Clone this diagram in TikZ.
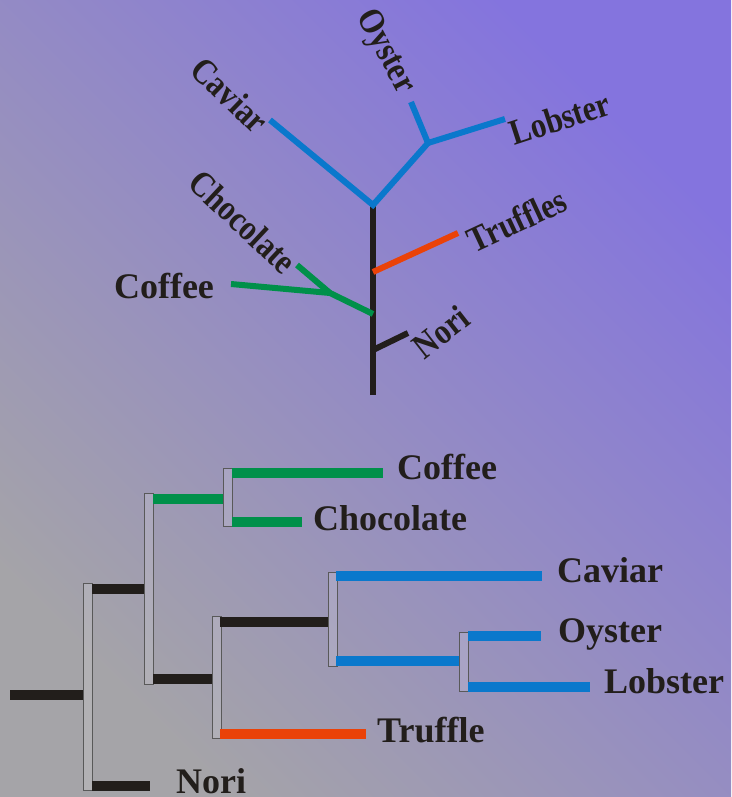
\documentclass[tikz,border=0pt]{standalone}
\usepackage{fontspec}
\setmainfont{Liberation Serif}
\usepackage{tikz}

\definecolor{bgtop}{HTML}{8474DE}
\definecolor{bgmid}{HTML}{958FC6}
\definecolor{bgbot}{HTML}{A5A4A8}
\definecolor{ink}{HTML}{221E1B}
\definecolor{seafood}{HTML}{0A78CC}
\definecolor{plant}{HTML}{00904A}
\definecolor{fungus}{HTML}{EA4208}

\begin{document}
\begin{tikzpicture}[x=1pt,y=-1pt,
  lbl/.style={font=\fontsize{36}{40}\selectfont\bfseries,text=ink,inner sep=0pt},
  tlbl/.style={lbl,anchor=center},
  twig/.style={line width=6pt,line join=miter},
  bar/.style={line width=10.5pt},
  clade/.style={draw=black!65,line width=1pt,fill=white,fill opacity=0.15}]

\shade[top color=bgtop,middle color=bgmid,bottom color=bgbot,shading angle=-45] (0,0) rectangle (731,797);
\useasboundingbox (0,0) rectangle (731,797);

% unrooted tree
\coordinate (base) at (373,395);
\coordinate (fork) at (373,205);
\coordinate (shell) at (428,143);
\coordinate (bean) at (330,293);
\coordinate (beanfoot) at (373,314);
\coordinate (trfoot) at (373,272);
\coordinate (nrfoot) at (373,350);
\coordinate (cavT) at (270,120);
\coordinate (oysT) at (411,102);
\coordinate (lobT) at (505,119);
\coordinate (trT) at (458,233);
\coordinate (cofT) at (231,284);
\coordinate (choT) at (297,265);
\coordinate (norT) at (408,333);

\draw[twig,ink] (base) -- (fork);
\draw[twig,seafood] (cavT) -- (fork) -- (shell) -- (oysT);
\draw[twig,seafood] (shell) -- (lobT);
\draw[twig,fungus] (trfoot) -- (trT);
\draw[twig,plant] (cofT) -- (bean) -- (beanfoot);
\draw[twig,plant] (choT) -- (bean);
\draw[twig,ink] (nrfoot) -- (norT);

\node[tlbl,rotate=-44,xscale=0.86] (caviar1) at (230,95) {Caviar};
\node[tlbl,rotate=-62,xscale=0.86] (oyster1) at (385,52) {Oyster};
\node[tlbl,rotate=18,xscale=0.86] (lobster1) at (560,118) {Lobster};
\node[tlbl,rotate=25,xscale=0.86] (truffle1) at (517,220) {Truffles};
\node[tlbl,rotate=-43,xscale=0.86] (choc1) at (243,222) {Chocolate};
\node[tlbl] (coffee1) at (164,286) {Coffee};
\node[tlbl,rotate=38,xscale=0.86] (nori1) at (441,332) {Nori};

% rooted tree
\foreach \x/\ya/\yb in {83/583/790, 144/493/684, 223/468/526, 212/616/738, 328/572/666, 459/632/691}{
  \draw[clade] (\x,\ya) rectangle (\x+9,\yb);
}

\coordinate (r0) at (10,695);   \coordinate (r1) at (83,695);
\coordinate (a0) at (92,589);   \coordinate (a1) at (144,589);
\coordinate (n0) at (92,786);   \coordinate (n1) at (150,786);
\coordinate (g0) at (153,499);  \coordinate (g1) at (223,499);
\coordinate (cf0) at (232,473); \coordinate (cf1) at (383,473);
\coordinate (ch0) at (232,522); \coordinate (ch1) at (302,522);
\coordinate (k0) at (153,679);  \coordinate (k1) at (212,679);
\coordinate (s0) at (220,622);  \coordinate (s1) at (328,622);
\coordinate (t0) at (220,734);  \coordinate (t1) at (366,734);
\coordinate (cv0) at (336,576); \coordinate (cv1) at (542,576);
\coordinate (m0) at (336,661);  \coordinate (m1) at (459,661);
\coordinate (o0) at (468,636);  \coordinate (o1) at (541,636);
\coordinate (l0) at (468,687);  \coordinate (l1) at (590,687);

\draw[bar,ink] (r0) -- (r1);
\draw[bar,ink] (a0) -- (a1);
\draw[bar,ink] (n0) -- (n1);
\draw[bar,plant] (g0) -- (g1);
\draw[bar,plant] (cf0) -- (cf1);
\draw[bar,plant] (ch0) -- (ch1);
\draw[bar,ink] (k0) -- (k1);
\draw[bar,ink] (s0) -- (s1);
\draw[bar,fungus] (t0) -- (t1);
\draw[bar,seafood] (cv0) -- (cv1);
\draw[bar,seafood] (m0) -- (m1);
\draw[bar,seafood] (o0) -- (o1);
\draw[bar,seafood] (l0) -- (l1);

\node[lbl,anchor=base west] (coffee2) at (397,479) {Coffee};
\node[lbl,anchor=base west] (choc2) at (313,530) {Chocolate};
\node[lbl,anchor=base west] (caviar2) at (557,582) {Caviar};
\node[lbl,anchor=base west] (oyster2) at (558,642) {Oyster};
\node[lbl,anchor=base west] (lobster2) at (604,693) {Lobster};
\node[lbl,anchor=base west] (truffle2) at (377,742) {Truffle};
\node[lbl,anchor=base west] (nori2) at (176,793) {Nori};
\end{tikzpicture}
\end{document}
